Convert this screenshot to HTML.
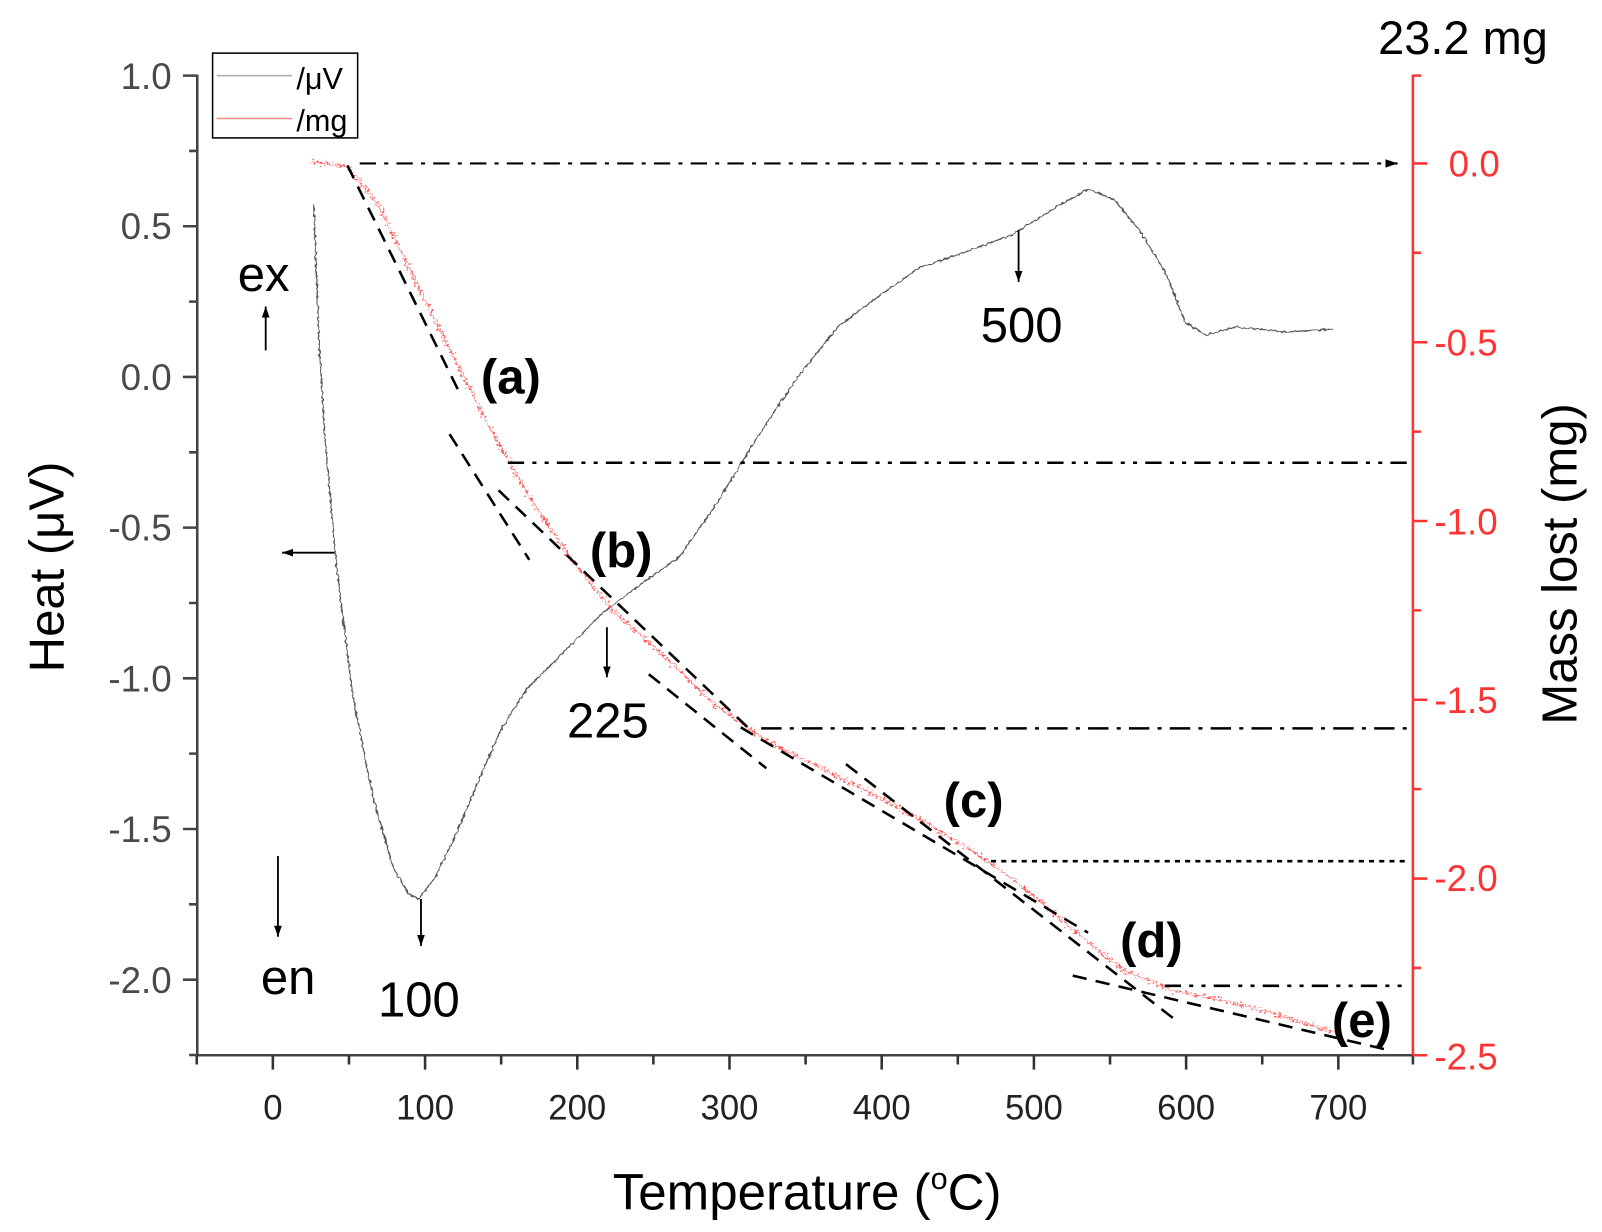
<!DOCTYPE html>
<html><head><meta charset="utf-8"><style>
html,body{margin:0;padding:0;background:#fff;}
svg{display:block;}
text{font-family:"Liberation Sans",Arial,sans-serif;}
</style></head><body>
<svg width="1602" height="1232" viewBox="0 0 1568 1206" xmlns="http://www.w3.org/2000/svg">
<defs>
<marker id="ah" viewBox="0 0 10 10" refX="10" refY="5" markerWidth="6" markerHeight="6" orient="auto-start-reverse"><path d="M0,1.5 L10,5 L0,8.5 z" fill="#000"/></marker>
<filter id="nz" filterUnits="userSpaceOnUse" x="0" y="0" width="1568" height="1206">
<feTurbulence type="fractalNoise" baseFrequency="0.4" numOctaves="1" seed="3" result="t"/>
<feDisplacementMap in="SourceGraphic" in2="t" scale="12" xChannelSelector="R" yChannelSelector="G"/>
</filter>
<filter id="nz2" filterUnits="userSpaceOnUse" x="0" y="0" width="1568" height="1206">
<feTurbulence type="fractalNoise" baseFrequency="0.3" numOctaves="1" seed="5" result="t"/>
<feDisplacementMap in="SourceGraphic" in2="t" scale="4" xChannelSelector="R" yChannelSelector="G"/>
</filter>
</defs>
<path d="M193,73 V1033 H1383" stroke="#444" stroke-width="2.5" fill="none"/>
<path d="M1383,73 V1033" stroke="#f33" stroke-width="2.5" fill="none"/>
<path stroke="#333" stroke-width="2.5" fill="none" d="M192.5,1033v9M267,1033v14M341.5,1033v9M416,1033v14M490.5,1033v9M565,1033v14M639.5,1033v9M714,1033v14M788.5,1033v9M863,1033v14M937.5,1033v9M1012,1033v14M1086.5,1033v9M1161,1033v14M1235.5,1033v9M1310,1033v14M1383,1033v9"/>
<path stroke="#444" stroke-width="2.5" fill="none" d="M179,74h14M185,147.75h8M179,221.5h14M185,295.25h8M179,369h14M185,442.75h8M179,516.5h14M185,590.25h8M179,664h14M185,737.75h8M179,811.5h14M185,885.25h8M179,959h14M185,1032.75h8"/>
<path stroke="#f33" stroke-width="2.5" fill="none" d="M1383,74h8M1383,160h14M1383,247.5h8M1383,335h14M1383,422.5h8M1383,510h14M1383,597.5h8M1383,685h14M1383,772.5h8M1383,860h14M1383,947.5h8M1383,1033h14"/>
<g font-size="36" fill="#4a4a4a" text-anchor="end">
<text x="168" y="87">1.0</text><text x="168" y="234">0.5</text><text x="168" y="382">0.0</text>
<text x="168" y="529">-0.5</text><text x="168" y="677">-1.0</text><text x="168" y="824">-1.5</text><text x="168" y="972">-2.0</text>
</g>
<g font-size="36" fill="#f33" text-anchor="start">
<text x="1418" y="173">0.0</text><text x="1404" y="348">-0.5</text><text x="1404" y="523">-1.0</text>
<text x="1404" y="698">-1.5</text><text x="1404" y="872">-2.0</text><text x="1404" y="1047">-2.5</text>
</g>
<g font-size="34" fill="#222" text-anchor="middle">
<text x="267" y="1096">0</text><text x="416" y="1096">100</text><text x="565" y="1096">200</text><text x="714" y="1096">300</text>
<text x="863" y="1096">400</text><text x="1012" y="1096">500</text><text x="1161" y="1096">600</text><text x="1310" y="1096">700</text>
</g>
<text x="790" y="1184" font-size="50" text-anchor="middle" fill="#000">Temperature (<tspan font-size="30" dy="-20">o</tspan><tspan dy="20">C)</tspan></text>
<text transform="translate(62,555) rotate(-90)" font-size="48" text-anchor="middle" fill="#000">Heat (μV)</text>
<text transform="translate(1543,552) rotate(-90)" font-size="48" text-anchor="middle" fill="#000">Mass lost (mg)</text>
<text x="1432" y="53" font-size="46" text-anchor="middle" fill="#000">23.2 mg</text>
<rect x="208" y="52" width="142" height="83" fill="#fff" stroke="#000" stroke-width="1.5"/>
<line x1="212" y1="74" x2="286" y2="74" stroke="#aaa" stroke-width="1.5"/>
<line x1="212" y1="116" x2="286" y2="116" stroke="#f88" stroke-width="1.5"/>
<text x="290" y="87" font-size="30">/μV</text><text x="290" y="128" font-size="30">/mg</text>
<path filter="url(#nz2)" fill="none" stroke="#555" stroke-width="1.3" d="M307,200 L312,330 L318,430 L330,560 L345,680 L365,780 L385,850 L400,875 L410,880 L425,860 L445,820 L470,760 L490,715 L515,675 L550,640 L590,600 L630,570 L665,545 L700,495 L740,430 L780,370 L820,320 L860,290 L900,262 L950,245 L990,230 L1030,205 L1065,185 L1090,195 L1115,225 L1140,265 L1160,315 L1180,328 L1210,320 L1260,325 L1305,322"/>
<path filter="url(#nz)" fill="none" stroke="#f55" stroke-width="1.4" d="M305,158 L340,163 L370,200 L400,262 L440,342 L480,420 L520,490 L560,548 L600,598 L650,642 L700,690 L750,725 L800,750 L850,775 L900,802 L950,832 L1000,867 L1050,910 L1100,950 L1150,970 L1200,980 L1250,993 L1305,1010"/>
<g stroke="#000" stroke-width="2.5" fill="none">
<g stroke-dasharray="14,9">
<line x1="340" y1="162" x2="450" y2="385"/>
<line x1="440" y1="425" x2="518" y2="548"/>
<line x1="488" y1="480" x2="735" y2="715"/>
<line x1="635" y1="660" x2="750" y2="752"/>
<line x1="725" y1="712" x2="1065" y2="913"/>
<line x1="828" y1="748" x2="1150" y2="998"/>
<line x1="1050" y1="955" x2="1355" y2="1027"/>
</g>
<path d="M352,160 H1368" stroke-dasharray="16,8,4,8" stroke-width="2" marker-end="url(#ah)"/>
<path d="M497,453 H1380" stroke-dasharray="16,8,4,8,4,8"/>
<path d="M745,713 H1380" stroke-dasharray="20,8,4,8"/>
<path d="M970,843 H1380" stroke-dasharray="5,5"/>
<path d="M1140,965 H1380" stroke-dasharray="16,8,4,8,4,8"/>
<g stroke-width="1.8">
<line x1="997" y1="225" x2="997" y2="276" marker-end="url(#ah)"/>
<line x1="594" y1="614" x2="594" y2="663" marker-end="url(#ah)"/>
<line x1="412" y1="880" x2="412" y2="926" marker-end="url(#ah)"/>
<line x1="327" y1="541" x2="276" y2="541" marker-end="url(#ah)"/>
<line x1="260" y1="343" x2="260" y2="300" marker-end="url(#ah)"/>
<line x1="272" y1="838" x2="272" y2="917" marker-end="url(#ah)"/>
</g>
</g>
<g font-size="48" fill="#000" text-anchor="middle">
<text x="1000" y="335">500</text><text x="595" y="722">225</text><text x="410" y="995">100</text>
<text x="258" y="285">ex</text><text x="282" y="973">en</text>
</g>
<g font-size="48" font-weight="bold" fill="#000" text-anchor="middle">
<text x="500" y="385">(a)</text><text x="608" y="555">(b)</text><text x="953" y="800">(c)</text>
<text x="1127" y="937">(d)</text><text x="1333" y="1015">(e)</text>
</g>
</svg>
</body></html>
